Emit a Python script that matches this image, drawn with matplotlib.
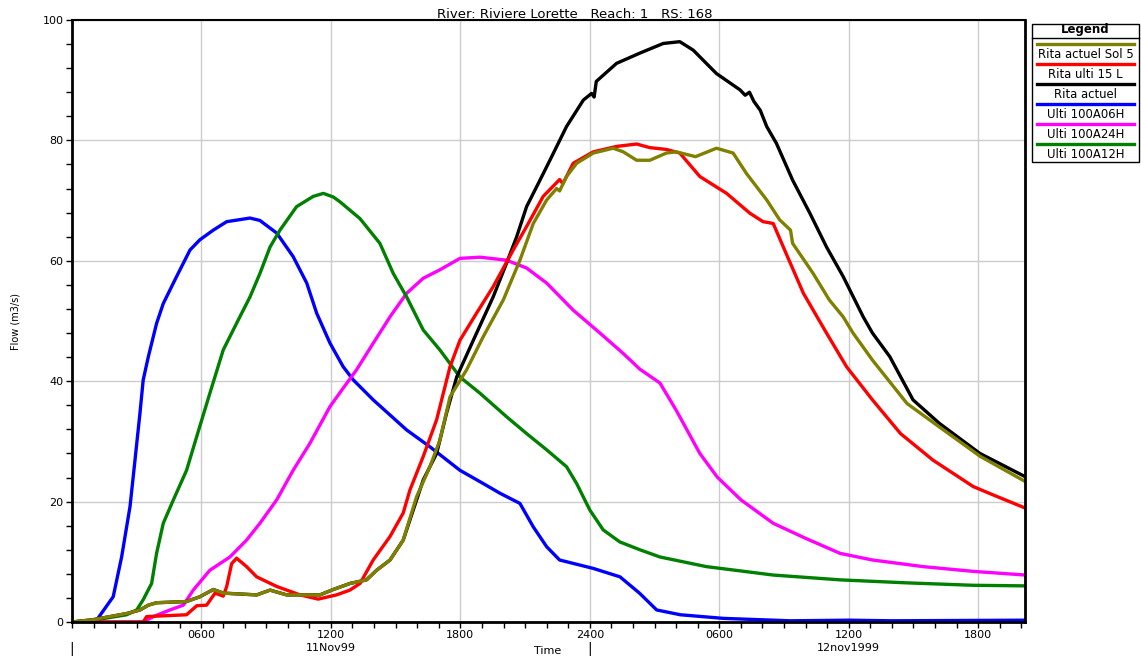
import matplotlib.pyplot as plt
import matplotlib.transforms as mtransforms
from matplotlib.lines import Line2D

# hours since 0000 11Nov99, flow in m3/s
tBlue = [0, 1.0, 1.14, 1.91, 2.30, 2.69, 2.92, 3.15, 3.30, 3.54, 3.92, 4.23, 4.85, 5.47, 5.93, 6.55, 7.17, 8.25, 8.71,
         9.49, 10.25, 10.88, 11.34, 11.96, 12.57, 13.04, 13.96, 15.51, 16.59, 17.98, 19.06, 19.83, 20.76, 21.38, 22.0,
         22.6, 24.16, 25.4, 26.3, 27.1, 28.2, 30.2, 33.3, 36.0, 38.0, 44.2]
qBlue = [0, 0, 0.3, 4.2, 10.8, 19.2, 26.9, 34.7, 40.2, 44.1, 49.6, 52.9, 57.4, 61.8, 63.5, 65.1, 66.5, 67.1, 66.7,
         64.6, 60.7, 56.3, 51.3, 46.3, 42.4, 40.2, 36.9, 31.9, 29.1, 25.2, 23.0, 21.4, 19.7, 15.8, 12.5,
         10.3, 8.9, 7.5, 4.8, 2.0, 1.2, 0.6, 0.2, 0.3, 0.2, 0.3]

tGreen = [0, 0.99, 2.53, 3.0, 3.30, 3.69, 3.92, 4.23, 4.70, 5.31, 5.78, 6.39, 7.01, 7.78, 8.25, 8.71, 9.18, 9.64,
          10.41, 11.18, 11.65, 12.11, 12.42, 13.35, 14.27, 14.89, 15.51, 16.28, 17.05, 17.98, 18.91, 20.14, 21.07,
          22.0, 22.92, 23.39, 24.0, 24.62, 25.39, 26.32, 27.25, 29.4, 32.5, 35.6, 38.7, 41.75, 44.2]
qGreen = [0, 0.3, 1.2, 2.0, 3.7, 6.4, 11.4, 16.4, 20.3, 25.2, 30.8, 38.0, 45.2, 50.7, 54.0, 57.9, 62.3, 65.1,
          69.0, 70.7, 71.2, 70.6, 69.8, 67.0, 62.9, 57.9, 54.0, 48.5, 45.2, 40.7, 38.0, 34.1, 31.3,
          28.6, 25.8, 23.0, 18.6, 15.3, 13.3, 12.0, 10.8, 9.2, 7.8, 7.0, 6.5, 6.1, 6.0]

tMagenta = [0, 3.3, 3.77, 4.54, 5.16, 5.62, 6.39, 7.32, 8.09, 8.71, 9.49, 10.25, 11.03, 11.96, 12.5, 13.19, 13.96,
            14.74, 15.51, 16.28, 17.05, 17.98, 18.91, 20.14, 21.07, 22.0, 23.23, 24.47, 25.55, 26.32, 27.25, 28.0,
            29.1, 29.9, 31.0, 32.5, 34.0, 35.6, 37.1, 39.45, 41.8, 44.2]
qMagenta = [0, 0, 0.9, 2.0, 2.8, 5.3, 8.6, 10.8, 13.6, 16.4, 20.3, 25.2, 29.7, 35.8, 38.5, 41.9, 46.3,
            50.7, 54.6, 57.1, 58.5, 60.4, 60.6, 60.1, 58.8, 56.3, 51.8, 48.0, 44.6, 42.0, 39.7, 35.2,
            28.0, 24.1, 20.3, 16.4, 13.9, 11.4, 10.3, 9.2, 8.4, 7.8]

tRed = [0, 3.3, 3.46, 5.31, 5.78, 6.24, 6.63, 7.01, 7.17, 7.4, 7.63, 8.09, 8.56, 9.49, 10.57, 11.41, 12.26, 12.88,
        13.35, 13.96, 14.74, 15.35, 15.66, 16.28, 16.9, 17.52, 17.98, 18.75, 19.52, 20.45, 21.07, 21.84, 22.6, 22.75,
        23.23, 24.16, 25.24, 26.17, 26.78, 27.55, 28.17, 29.1, 30.34, 31.42, 32.03, 32.5, 33.1, 33.9, 34.97, 35.9,
        37.1, 38.4, 39.9, 41.77, 42.7, 44.2]
qRed = [0, 0, 0.9, 1.2, 2.7, 2.8, 4.8, 4.3, 5.9, 9.7, 10.6, 9.2, 7.5, 5.9, 4.5, 3.8, 4.5, 5.3,
        6.4, 10.3, 14.2, 18.1, 21.9, 27.5, 33.6, 42.4, 46.8, 51.3, 55.7, 61.8, 65.7, 70.7, 73.5, 72.8,
        76.2, 78.1, 79.0, 79.4, 78.8, 78.5, 77.9, 74.0, 71.2, 67.9, 66.5, 66.2, 61.2, 54.6, 48.0, 42.4,
        36.9, 31.3, 26.9, 22.5, 21.1, 18.9]

tBlack = [0, 1.0, 2.53, 3.15, 3.54, 3.92, 5.31, 5.93, 6.55, 7.01, 8.56, 9.18, 9.95, 11.49, 12.11, 12.88, 13.65,
          14.12, 14.74, 15.35, 16.28, 16.9, 17.36, 17.83, 18.6, 19.52, 20.14, 20.61, 21.07, 21.69, 22.15, 22.92,
          23.7, 24.08, 24.2, 24.3, 25.24, 26.32, 27.4, 28.17, 28.79, 29.87, 30.96, 31.2, 31.4, 31.6, 31.9, 32.2,
          32.65, 33.4, 34.2, 34.97, 35.74, 36.67, 37.1, 37.9, 38.98, 40.2, 42.08, 44.2]
qBlack = [0, 0.4, 1.4, 2.0, 2.8, 3.2, 3.4, 4.2, 5.4, 4.8, 4.5, 5.3, 4.5, 4.5, 5.4, 6.4, 7.0,
          8.6, 10.3, 13.6, 23.6, 28.0, 34.7, 40.7, 46.8, 54.0, 59.6, 64.0, 69.0, 73.4, 76.7, 82.3,
          86.7, 87.8, 87.2, 89.8, 92.8, 94.5, 96.1, 96.4, 95.0, 91.1, 88.4, 87.5, 88.0, 86.5, 85.0, 82.3,
          79.5, 73.4, 67.9, 62.3, 57.4, 50.7, 48.0, 44.1, 36.9, 33.0, 28.0, 24.1]

tOlive = [0, 1.0, 2.53, 3.15, 3.54, 3.92, 5.31, 5.93, 6.55, 7.01, 8.56, 9.18, 9.95, 11.49, 12.11, 12.88, 13.65,
          14.12, 14.74, 15.35, 15.97, 16.59, 17.05, 17.52, 18.29, 19.06, 19.99, 20.76, 21.38, 22.0, 22.46, 22.6,
          22.92, 23.39, 24.16, 25.08, 25.55, 26.17, 26.78, 27.55, 28.0, 28.9, 29.87, 30.64, 31.26, 32.2, 32.8,
          33.3, 33.4, 34.35, 35.1, 35.74, 36.2, 37.1, 38.7, 40.2, 42.1, 44.2]
qOlive = [0, 0.4, 1.4, 2.0, 2.8, 3.2, 3.4, 4.2, 5.4, 4.8, 4.5, 5.3, 4.5, 4.5, 5.4, 6.4, 7.0,
          8.6, 10.3, 13.6, 20.8, 25.8, 30.2, 37.4, 41.9, 47.4, 53.5, 60.1, 66.2, 70.1, 72.0, 71.6,
          74.0, 76.2, 77.9, 78.7, 78.1, 76.7, 76.7, 77.9, 78.1, 77.3, 78.7, 77.9, 74.5, 70.1, 66.8,
          65.1, 62.9, 57.9, 53.5, 50.7, 48.0, 43.5, 36.3, 32.4, 27.5, 23.3]

legendNames = ["Rita actuel Sol 5", "Rita ulti 15 L", "Rita actuel", "Ulti 100A06H", "Ulti 100A24H", "Ulti 100A12H"]
legendColors = ["#808000", "red", "black", "blue", "magenta", "green"]

majorTicks = [6, 12, 18, 24, 30, 36, 42]
majorLabels = ["0600", "1200", "1800", "2400", "0600", "1200", "1800"]
dayLabels = ["11Nov99", "12nov1999"]
dayCenters = [12, 36]
dayStarts = [0, 24]

plt.rcParams['font.family'] = ['DejaVu Sans']

fig = plt.figure(figsize=(11.41, 6.56), dpi=100)
ax = fig.add_axes([72/1141, 34/656, (1025-72)/1141, (622-20)/656])

lw = 2.4
ax.plot(tBlue, qBlue, color="blue", lw=lw)
ax.plot(tMagenta, qMagenta, color="magenta", lw=lw)
ax.plot(tGreen, qGreen, color="green", lw=lw)
ax.plot(tBlack, qBlack, color="black", lw=lw)
ax.plot(tRed, qRed, color="red", lw=lw)
ax.plot(tOlive, qOlive, color="#808000", lw=lw)

ax.set_xlim(0, 44.17)
ax.set_ylim(0, 100)
ax.set_xticks(majorTicks)
ax.set_xticklabels(majorLabels)
ax.set_xticks(range(0, 45), minor=True)
ax.set_yticks([0, 20, 40, 60, 80, 100])
ax.set_yticks(range(0, 101, 4), minor=True)
ax.grid(True, which="major", color="#cccccc", lw=1)
ax.set_axisbelow(True)
ax.tick_params(which="both", direction="out", length=4, width=1, labelsize=8, pad=2)
for s in ax.spines.values():
    s.set_linewidth(2)
ax.spines["top"].set_linewidth(1.5)

ax.set_ylabel("Flow (m3/s)", fontsize=7, labelpad=16)
fig.text(575/1141, 1 - 15/656, "River: Riviere Lorette   Reach: 1   RS: 168",
         ha="center", va="center", fontsize=9.5)

trans = mtransforms.blended_transform_factory(ax.transData, ax.transAxes)
for d, c in zip(dayLabels, dayCenters):
    ax.text(c, -0.035, d, transform=trans, ha="center", va="top", fontsize=8)
for s in dayStarts:
    ax.text(s, -0.032, "|", transform=trans, ha="center", va="top", fontsize=10)
fig.text(548/1141, 1 - 651/656, "Time", ha="center", va="center", fontsize=8)

# legend box drawn by hand
lx0, lx1 = 1032/1141, 1139/1141
ly0, ly1 = 1 - 162/656, 1 - 24/656
fig.add_artist(plt.Rectangle((lx0, ly0), lx1 - lx0, ly1 - ly0, transform=fig.transFigure,
                             fill=False, edgecolor="black", lw=1))
fig.text((lx0 + lx1) / 2, 1 - 30/656, "Legend", ha="center", va="center", fontsize=8.5, fontweight="bold")
fig.add_artist(Line2D([lx0, lx1], [1 - 38/656, 1 - 38/656], transform=fig.transFigure, color="black", lw=1))
for i, (name, col) in enumerate(zip(legendNames, legendColors)):
    yl = 44 + i * 20
    fig.add_artist(Line2D([1037/1141, 1134/1141], [1 - yl/656, 1 - yl/656], transform=fig.transFigure,
                          color=col, lw=2.4))
    fig.text((lx0 + lx1) / 2, 1 - (yl + 10)/656, name, ha="center", va="center", fontsize=8.4)

fig.savefig("out.png", dpi=100)
